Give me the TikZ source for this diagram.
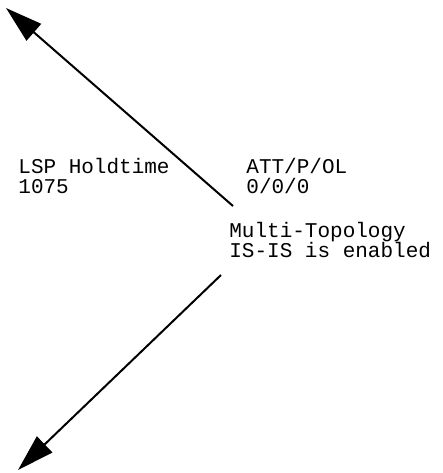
\documentclass[tikz,border=0pt]{standalone}
\usepackage{fontspec}
\setmonofont{Liberation Mono}
\usepackage{tikz}
\usetikzlibrary{arrows.meta,positioning}
\setlength{\lineskiplimit}{-20pt}

\begin{document}
\begin{tikzpicture}[
  x=0.5pt,y=-0.5pt,
  lbl/.style={inner sep=0pt,anchor=north west,align=left,
              font=\ttfamily\fontsize{10.5pt}{10pt}\selectfont},
  arr/.style={-{Triangle[length=18.5pt,width=11pt]},line width=1pt,draw=black}
]
\useasboundingbox (0,0) rectangle (443,473);
\node[lbl] (hold) at (18,158) {LSP Holdtime\\1075};
\node[lbl,right=38pt of hold.north east,anchor=north west] (att) {ATT/P/OL\\0/0/0};
\node[lbl] (mt) at (229,222) {Multi-Topology\\IS-IS is enabled};
% free ends of the two arrows
\coordinate (upfrom) at (233,206);
\coordinate (uptip) at (6,8);
\coordinate (downfrom) at (221,275);
\coordinate (downtip) at (18,470);
\draw[arr] (upfrom)--(uptip);
\draw[arr] (downfrom)--(downtip);
\end{tikzpicture}
\end{document}
